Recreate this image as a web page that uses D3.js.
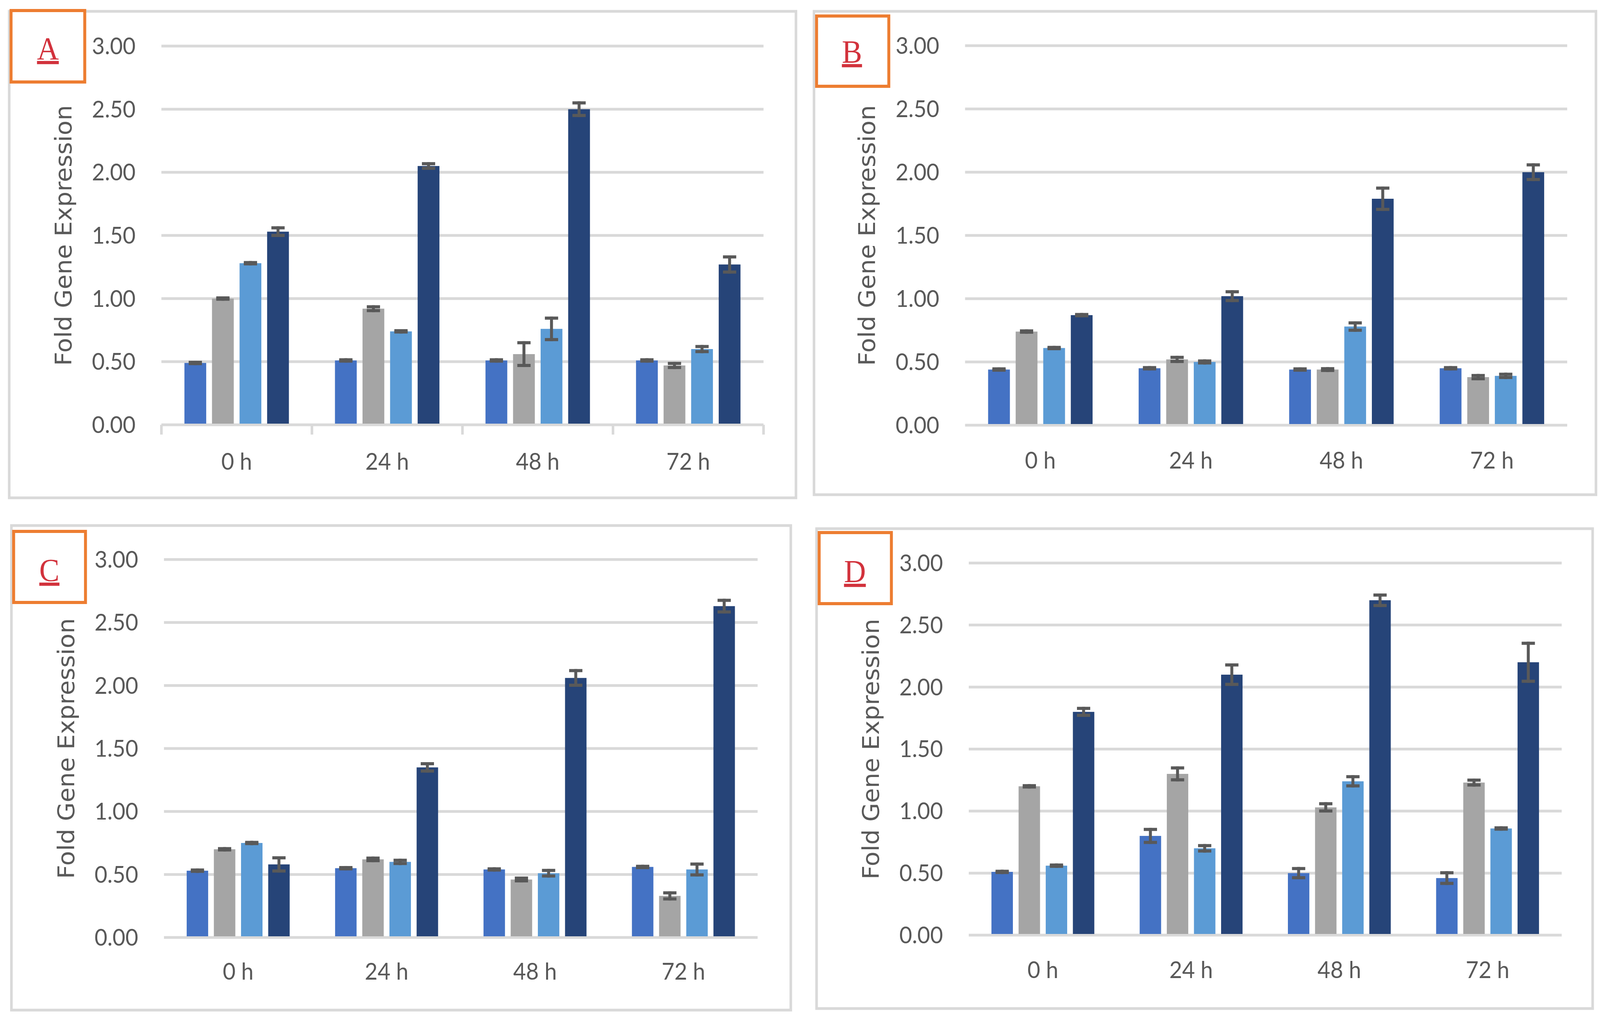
<!DOCTYPE html>
<html>
<head>
<meta charset="utf-8">
<script src="https://cdn.jsdelivr.net/npm/d3@7"></script>
<style>
  html, body { margin: 0; padding: 0; background: #fff; overflow: hidden; }
  svg { display: block; width: 100vw; height: 100vh; }
</style>
</head>
<body>
<div id="chart"></div>
<script>
// categories, series colours and y ticks shared by the four panels
const categories = ["0 h", "24 h", "48 h", "72 h"];
const seriesColors = ["#4472C4", "#A5A5A5", "#5B9BD5", "#264478"];
const yTicks = [0, 0.5, 1, 1.5, 2, 2.5, 3];
const panelLetters = ["A", "B", "C", "D"];

// values, one row per series (blue, grey, light blue, navy), one column per time point
const meansA = [[0.49, 0.51, 0.51, 0.51], [1.00, 0.92, 0.56, 0.47], [1.28, 0.74, 0.76, 0.60], [1.53, 2.05, 2.50, 1.27]];
const errsA  = [[0.005, 0.005, 0.005, 0.005], [0.005, 0.015, 0.09, 0.016], [0.005, 0.005, 0.085, 0.02], [0.03, 0.018, 0.05, 0.06]];

const meansB = [[0.44, 0.45, 0.44, 0.45], [0.74, 0.52, 0.44, 0.38], [0.61, 0.50, 0.78, 0.39], [0.87, 1.02, 1.79, 2.00]];
const errsB  = [[0.005, 0.005, 0.005, 0.005], [0.005, 0.016, 0.007, 0.013], [0.005, 0.008, 0.029, 0.013], [0.005, 0.035, 0.084, 0.058]];

const meansC = [[0.53, 0.55, 0.54, 0.56], [0.70, 0.62, 0.46, 0.33], [0.75, 0.60, 0.51, 0.54], [0.58, 1.35, 2.06, 2.63]];
const errsC  = [[0.005, 0.005, 0.005, 0.005], [0.005, 0.01, 0.011, 0.024], [0.005, 0.013, 0.022, 0.043], [0.052, 0.029, 0.058, 0.046]];

const meansD = [[0.51, 0.80, 0.50, 0.46], [1.20, 1.30, 1.03, 1.23], [0.56, 0.70, 1.24, 0.86], [1.80, 2.10, 2.70, 2.20]];
const errsD  = [[0.005, 0.052, 0.037, 0.043], [0.005, 0.048, 0.029, 0.02], [0.005, 0.022, 0.037, 0.005], [0.028, 0.078, 0.042, 0.153]];

const W = 4342, H = 2597;
const textColor = "#595959";
const gridColor = "#D9D9D9";

// drawn in a 4342x2597 coordinate space, scaled to whatever the viewport is
const svg = d3.select("#chart")
  .append("svg")
    .attr("viewBox", `0 0 ${W} ${H}`)
    .attr("preserveAspectRatio", "none");

// where each panel sits on the page
const panels = [
  {means: meansA, errs: errsA, box: [25, 29, 2160, 1275], tag: [30, 27, 230, 210], tagText: [130, 152],
   gx: [438, 2072], gy: [1088, 118], catY: 1203, axisTicks: true},
  {means: meansB, errs: errsB, box: [2209, 29, 4331, 1267], tag: [2216, 41, 2412, 221], tagText: [2312, 160],
   gx: [2619, 4253], gy: [1089, 117], catY: 1200, axisTicks: false},
  {means: meansC, errs: errsC, box: [31, 1346, 2146, 2587], tag: [37, 1361, 232, 1543], tagText: [134, 1488],
   gx: [445, 2056], gy: [2401, 1433], catY: 2509, axisTicks: false},
  {means: meansD, errs: errsD, box: [2216, 1354, 4322, 2583], tag: [2223, 1364, 2419, 1546], tagText: [2320, 1491],
   gx: [2629, 4238], gy: [2395, 1442], catY: 2505, axisTicks: false}
];

panels.forEach(function(p, i) {
  const g = svg.append("g");

  // outer grey frame
  g.append("rect")
    .attr("x", p.box[0]).attr("y", p.box[1])
    .attr("width", p.box[2] - p.box[0]).attr("height", p.box[3] - p.box[1])
    .attr("fill", "none").attr("stroke", gridColor).attr("stroke-width", 7);

  const x0 = d3.scaleBand()
    .domain(categories)
    .range(p.gx);
  const bw = x0.bandwidth();
  const x1 = d3.scaleBand()
    .domain(d3.range(seriesColors.length))
    .range([bw * 0.153, bw * 0.847])
    .paddingInner(0.21);
  const y = d3.scaleLinear()
    .domain([0, 3])
    .range(p.gy);

  // gridlines
  g.append("g").selectAll("line")
    .data(yTicks)
    .join("line")
      .attr("x1", p.gx[0]).attr("x2", p.gx[1])
      .attr("y1", d => y(d)).attr("y2", d => y(d))
      .attr("stroke", gridColor).attr("stroke-width", 7);

  // y tick labels
  g.append("g").selectAll("text")
    .data(yTicks)
    .join("text")
      .attr("x", p.gx[0] - 70)
      .attr("y", d => y(d))
      .attr("dy", "0.35em")
      .attr("text-anchor", "end")
      .style("font-family", "Lato, 'Open Sans', sans-serif")
      .style("font-size", "60px")
      .style("fill", textColor)
      .text(d3.format(".2f"));

  // panel A has tick marks under the category axis
  if (p.axisTicks) {
    const tickXs = categories.map(c => x0(c)).concat([p.gx[1]]);
    g.append("g").selectAll("line")
      .data(tickXs)
      .join("line")
        .attr("x1", d => d).attr("x2", d => d)
        .attr("y1", y(0)).attr("y2", y(0) + 25)
        .attr("stroke", gridColor).attr("stroke-width", 7);
  }

  // category labels
  g.append("g").selectAll("text")
    .data(categories)
    .join("text")
      .attr("x", d => x0(d) + bw / 2)
      .attr("y", p.catY)
      .attr("text-anchor", "middle")
      .style("font-family", "Lato, 'Open Sans', sans-serif")
      .style("font-size", "60px")
      .style("fill", textColor)
      .text(d => d);

  // y axis title
  const yMid = (p.gy[0] + p.gy[1]) / 2;
  g.append("text")
    .attr("transform", `translate(${p.gx[0] - 244}, ${yMid}) rotate(-90)`)
    .attr("text-anchor", "middle")
    .style("font-family", "'DejaVu Sans', Verdana, sans-serif")
    .style("font-size", "62px")
    .style("fill", textColor)
    .text("Fold Gene Expression");

  // bars
  const rows = [];
  p.means.forEach(function(vals, s) {
    vals.forEach(function(v, c) {
      rows.push({s: s, cat: categories[c], v: v, e: p.errs[s][c]});
    });
  });

  g.append("g").selectAll("rect")
    .data(rows)
    .join("rect")
      .attr("x", d => x0(d.cat) + x1(d.s))
      .attr("y", d => y(d.v))
      .attr("width", x1.bandwidth())
      .attr("height", d => y(0) - y(d.v) - 3)
      .attr("fill", d => seriesColors[d.s]);

  // error bars
  const eb = g.append("g")
    .attr("stroke", "#595959")
    .attr("stroke-width", 8);
  const cx = d => x0(d.cat) + x1(d.s) + x1.bandwidth() / 2;
  eb.selectAll(".stem")
    .data(rows)
    .join("line")
      .attr("class", "stem")
      .attr("x1", cx).attr("x2", cx)
      .attr("y1", d => y(d.v + d.e) - 4).attr("y2", d => y(d.v - d.e) + 4);
  eb.selectAll(".capTop")
    .data(rows)
    .join("line")
      .attr("class", "capTop")
      .attr("x1", d => cx(d) - 18).attr("x2", d => cx(d) + 18)
      .attr("y1", d => y(d.v + d.e)).attr("y2", d => y(d.v + d.e));
  eb.selectAll(".capBot")
    .data(rows)
    .join("line")
      .attr("class", "capBot")
      .attr("x1", d => cx(d) - 18).attr("x2", d => cx(d) + 18)
      .attr("y1", d => y(d.v - d.e)).attr("y2", d => y(d.v - d.e));

  // orange tag box with the panel letter
  g.append("rect")
    .attr("x", p.tag[0]).attr("y", p.tag[1])
    .attr("width", p.tag[2] - p.tag[0]).attr("height", p.tag[3] - p.tag[1])
    .attr("fill", "#fff").attr("stroke", "#ED7D31").attr("stroke-width", 8);
  g.append("text")
    .attr("x", p.tagText[0])
    .attr("y", p.tagText[1])
    .attr("text-anchor", "middle")
    .style("font-family", "'Liberation Serif', 'Times New Roman', serif")
    .style("font-size", "82px")
    .style("fill", "#D2323C")
    .style("text-decoration", "underline")
    .text(panelLetters[i]);
});
</script>
</body>
</html>
